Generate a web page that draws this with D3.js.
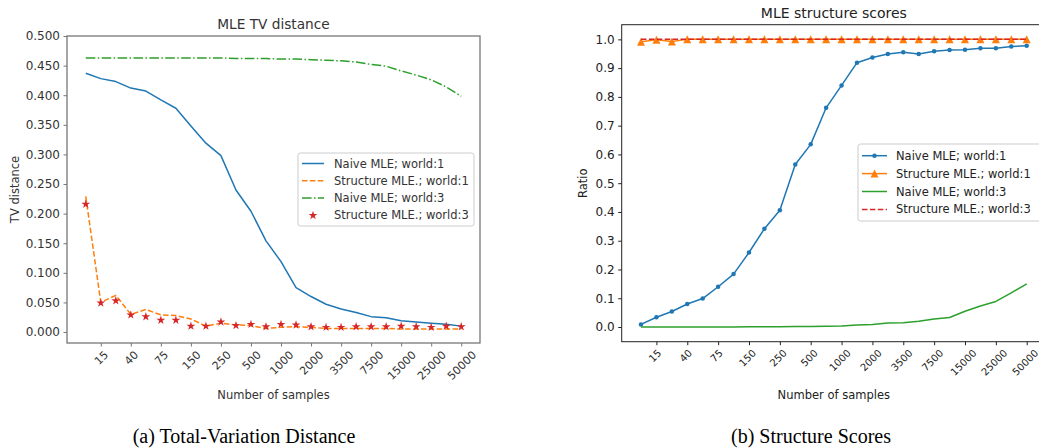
<!DOCTYPE html>
<html>
<head>
<meta charset="utf-8">
<script src="https://cdn.jsdelivr.net/npm/d3@7"></script>
<style>
  body { margin: 0; background: #fff; }
  svg { display: block; font-family: "DejaVu Sans", sans-serif; }
</style>
</head>
<body>
<svg id="grafico" width="1039" height="448"></svg>
<script>

// Sample sizes (one per point) and the ones that get a tick label
var sampleSizes = ['10','15','25','40','50','75','100','150','200','250','350','500','750',
                   '1000','1500','2000','2500','3500','5000','7500','10000','15000','20000',
                   '25000','35000','50000'];
var tickLabels = ['15','40','75','150','250','500','1000','2000','3500','7500','15000','25000','50000'];

// Left panel: TV distance
var tvNaiveWorld1  = [0.437,0.428,0.423,0.412,0.407,0.392,0.378,0.348,0.319,0.298,0.240,0.204,0.154,
                      0.119,0.075,0.060,0.047,0.039,0.033,0.026,0.024,0.019,0.017,0.015,0.013,0.010];
var tvStructWorld1 = [0.229,0.050,0.062,0.030,0.038,0.029,0.028,0.022,0.010,0.015,0.012,0.011,0.006,
                      0.008,0.009,0.008,0.006,0.006,0.006,0.006,0.006,0.005,0.005,0.005,0.005,0.005];
var tvNaiveWorld3  = [0.463,0.463,0.463,0.463,0.463,0.463,0.463,0.463,0.463,0.463,0.462,0.462,0.462,
                      0.461,0.461,0.460,0.459,0.458,0.456,0.452,0.449,0.441,0.434,0.426,0.414,0.398];
var tvStructWorld3 = [0.216,0.049,0.053,0.029,0.026,0.020,0.020,0.010,0.010,0.017,0.011,0.013,0.009,
                      0.013,0.012,0.009,0.008,0.008,0.009,0.009,0.009,0.010,0.009,0.008,0.010,0.009];
var tvTicks = [0, 0.05, 0.1, 0.15, 0.2, 0.25, 0.3, 0.35, 0.4, 0.45, 0.5];

// Right panel: structure scores
var scoreNaiveWorld1  = [0.009,0.034,0.054,0.080,0.099,0.140,0.184,0.259,0.342,0.406,0.565,0.635,0.762,
                         0.840,0.919,0.937,0.949,0.955,0.949,0.959,0.963,0.964,0.969,0.969,0.975,0.978];
var scoreStructWorld1 = [0.992,0.999,0.993,1,1,1,1,1,1,1,1,1,1,1,1,1,1,1,1,1,1,1,1,1,1,1];
var scoreNaiveWorld3  = [0.000,0.000,0.000,0.000,0.000,0.000,0.000,0.001,0.001,0.001,0.002,0.002,0.003,
                         0.004,0.007,0.009,0.014,0.015,0.020,0.028,0.033,0.055,0.073,0.089,0.119,0.150];
var scoreStructWorld3 = [1,1,1,1,1,1,1,1,1,1,1,1,1,1,1,1,1,1,1,1,1,1,1,1,1,1];
var scoreTicks = [0, 0.1, 0.2, 0.3, 0.4, 0.5, 0.6, 0.7, 0.8, 0.9, 1.0];

var svg = d3.select('#grafico');

// matplotlib-like '^' marker
var triangleUp = {
  draw: function(ctx, size) {
    var r = Math.sqrt(size) / 2;
    ctx.moveTo(0, -r);
    ctx.lineTo(r, r);
    ctx.lineTo(-r, r);
    ctx.closePath();
  }
};

function markerPath(tipo) {
  if (tipo === 'dot') return d3.symbol(d3.symbolCircle, 16)();
  if (tipo === 'triangle') return d3.symbol(triangleUp, 64)();
  if (tipo === 'star') return d3.symbol(d3.symbolStar, 24)();
  return null;
}

function drawPanel(p) {

  var g = svg.append('g');

  // Scales: one point per sample size, matplotlib-like 5% margins
  var x = d3.scalePoint()
            .domain(sampleSizes)
            .range([p.left, p.right])
            .padding(1.25);
  var y = d3.scaleLinear()
            .domain(p.yDomain)
            .range([p.bottom, p.top]);

  // Y axis
  var eixoY = d3.axisLeft(y)
                .tickValues(p.yTicks)
                .tickFormat(d3.format(p.yFormat))
                .tickSize(3.5)
                .tickPadding(3.5);
  var gy = g.append('g')
            .attr('transform', 'translate(' + p.left + ',0)')
            .call(eixoY);
  gy.select('.domain').remove();
  gy.selectAll('line').attr('stroke', p.frameColor);
  gy.selectAll('text')
    .attr('fill', p.textColor)
    .style('font-size', p.tickFont + 'px')
    .style('font-family', '"DejaVu Sans", sans-serif');

  // X axis, labels rotated 45 degrees and centered under the tick
  var eixoX = d3.axisBottom(x)
                .tickValues(tickLabels)
                .tickSize(3.5);
  var gx = g.append('g')
            .attr('transform', 'translate(0,' + p.bottom + ')')
            .call(eixoX);
  gx.select('.domain').remove();
  gx.selectAll('line').attr('stroke', p.frameColor);
  gx.selectAll('text')
    .attr('fill', p.textColor)
    .style('font-size', p.xTickFont + 'px')
    .style('font-family', '"DejaVu Sans", sans-serif')
    .attr('text-anchor', 'middle')
    .attr('y', 0)
    .attr('dy', '0.35em')
    .attr('transform', function() {
      var len = this.getComputedTextLength();
      var meio = 7 + (len + p.xTickFont * 0.75) * 0.7071 / 2;
      return 'translate(' + p.xTickShift + ',' + meio + ') rotate(-45)';
    });

  // Series
  var linha = d3.line()
                .x(function(d, i) { return x(sampleSizes[i]); })
                .y(function(d) { return y(d); });

  p.series.forEach(function(s) {
    if (s.line) {
      g.append('path')
       .attr('d', linha(s.values))
       .attr('fill', 'none')
       .attr('stroke', s.color)
       .attr('stroke-width', 1.5)
       .attr('stroke-dasharray', s.dash || null)
       .attr('stroke-linejoin', 'round');
    }
    if (s.marker) {
      g.selectAll(null)
       .data(s.values)
       .enter()
       .append('path')
       .attr('d', markerPath(s.marker))
       .attr('transform', function(d, i) {
         return 'translate(' + x(sampleSizes[i]) + ',' + y(d) + ')';
       })
       .attr('fill', s.color);
    }
  });

  // Frame
  g.append('rect')
   .attr('x', p.left)
   .attr('y', p.top)
   .attr('width', p.right - p.left)
   .attr('height', p.bottom - p.top)
   .attr('fill', 'none')
   .attr('stroke', p.frameColor)
   .attr('stroke-width', p.frameWidth);

  // Titles
  g.append('text')
   .attr('x', (p.left + p.right) / 2)
   .attr('y', p.titleY)
   .attr('text-anchor', 'middle')
   .style('font-size', p.titleFont + 'px')
   .attr('fill', p.textColor)
   .text(p.title);
  g.append('text')
   .attr('x', p.xLabelX)
   .attr('y', 399)
   .attr('text-anchor', 'middle')
   .style('font-size', '11.5px')
   .attr('fill', p.textColor)
   .text('Number of samples');
  g.append('text')
   .attr('transform', 'translate(' + p.yLabelX + ',' + (p.top + p.bottom) / 2 + ') rotate(-90)')
   .attr('text-anchor', 'middle')
   .attr('dy', '0.35em')
   .style('font-size', '11.5px')
   .attr('fill', p.textColor)
   .text(p.yLabel);

  // Legend
  var L = p.legend;
  var gl = g.append('g');
  gl.append('rect')
    .attr('x', L.x)
    .attr('y', L.y)
    .attr('width', L.w)
    .attr('height', L.h)
    .attr('rx', 2.5)
    .attr('fill', 'white')
    .attr('fill-opacity', 0.8)
    .attr('stroke', '#cccccc');
  p.series.forEach(function(s, i) {
    var cy = L.row0 + i * L.step;
    if (s.line) {
      gl.append('line')
        .attr('x1', L.s0).attr('x2', L.s1)
        .attr('y1', cy).attr('y2', cy)
        .attr('stroke', s.color)
        .attr('stroke-width', 1.5)
        .attr('stroke-dasharray', s.dash || null);
    }
    if (s.marker) {
      gl.append('path')
        .attr('d', markerPath(s.marker))
        .attr('transform', 'translate(' + (L.s0 + L.s1) / 2 + ',' + cy + ')')
        .attr('fill', s.color);
    }
    gl.append('text')
      .attr('x', L.tx)
      .attr('y', cy)
      .attr('dy', '0.35em')
      .style('font-size', '11.5px')
      .attr('fill', p.textColor)
      .text(s.name);
  });
}

// (a) TV distance
drawPanel({
  left: 67, right: 480, top: 36, bottom: 343,
  yDomain: [-0.0185, 0.5], yTicks: tvTicks, yFormat: '.3f',
  frameColor: '#777', frameWidth: 1.3, textColor: '#333',
  tickFont: 12, xTickFont: 11, xTickShift: 0, titleFont: 13.7, titleY: 29,
  title: 'MLE TV distance', yLabel: 'TV distance', yLabelX: 15, xLabelX: 273.5,
  legend: { x: 298, y: 153, w: 176, h: 73, row0: 163.5, step: 17.3, s0: 302, s1: 324, tx: 334 },
  series: [
    { name: 'Naive MLE; world:1', values: tvNaiveWorld1, color: '#1f77b4', line: true },
    { name: 'Structure MLE.; world:1', values: tvStructWorld1, color: '#ff7f0e', line: true, dash: '5.5,2.4' },
    { name: 'Naive MLE; world:3', values: tvNaiveWorld3, color: '#2ca02c', line: true, dash: '9.6,2.4,1.5,2.4' },
    { name: 'Structure MLE.; world:3', values: tvStructWorld3, color: '#d62728', line: false, marker: 'star' }
  ]
});

// (b) Structure scores
drawPanel({
  left: 621.7, right: 1046, top: 24.7, bottom: 341.7,
  yDomain: [-0.051, 1.051], yTicks: scoreTicks, yFormat: '.1f',
  frameColor: '#222', frameWidth: 1, textColor: '#222',
  tickFont: 12, xTickFont: 10, xTickShift: -2, titleFont: 14, titleY: 17.5,
  title: 'MLE structure scores', yLabel: 'Ratio', yLabelX: 583, xLabelX: 833.8,
  legend: { x: 858, y: 144, w: 190, h: 77, row0: 155.7, step: 17.9, s0: 862, s1: 887, tx: 896 },
  series: [
    { name: 'Naive MLE; world:1', values: scoreNaiveWorld1, color: '#1f77b4', line: true, marker: 'dot' },
    { name: 'Structure MLE.; world:1', values: scoreStructWorld1, color: '#ff7f0e', line: true, marker: 'triangle' },
    { name: 'Naive MLE; world:3', values: scoreNaiveWorld3, color: '#2ca02c', line: true },
    { name: 'Structure MLE.; world:3', values: scoreStructWorld3, color: '#d62728', line: true, dash: '5.5,2.4' }
  ]
});

// Captions under the panels
svg.append('text')
   .attr('x', 244)
   .attr('y', 443)
   .attr('text-anchor', 'middle')
   .style('font-family', '"Liberation Serif", serif')
   .style('font-size', '20px')
   .text('(a) Total-Variation Distance');
svg.append('text')
   .attr('x', 811)
   .attr('y', 443)
   .attr('text-anchor', 'middle')
   .style('font-family', '"Liberation Serif", serif')
   .style('font-size', '20px')
   .text('(b) Structure Scores');

</script>
</body>
</html>
